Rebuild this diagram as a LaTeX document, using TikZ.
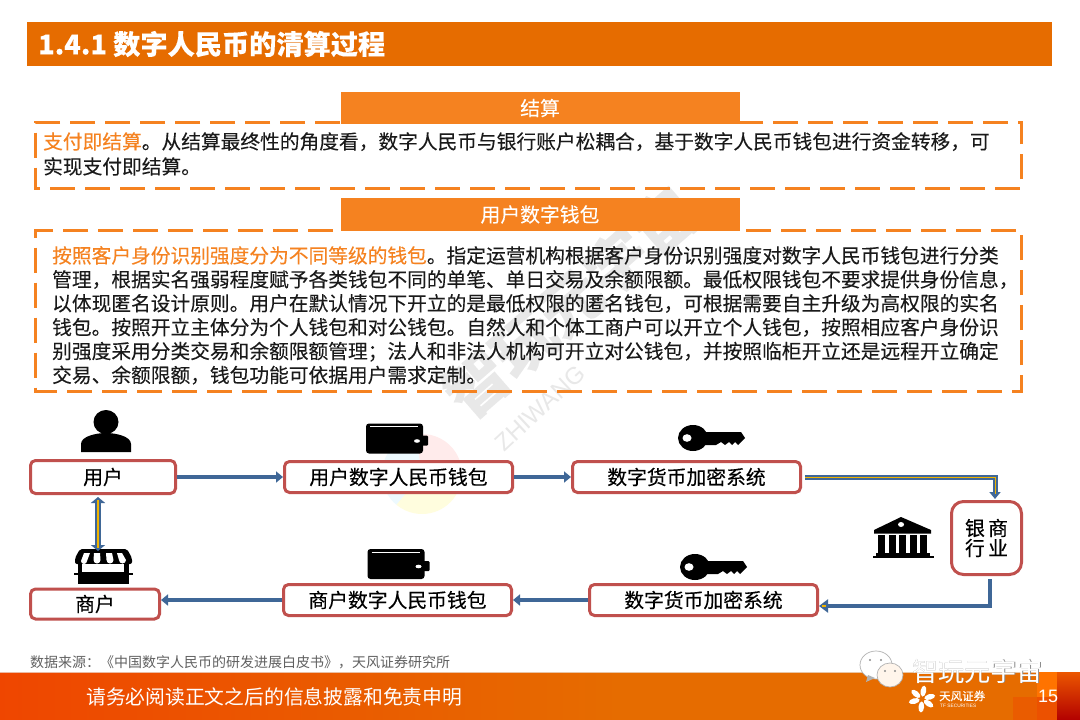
\documentclass[tikz,border=0pt]{standalone}
\usepackage{fontspec}
\setmainfont{Noto Sans CJK SC}[FakeBold=0.12]
\newfontfamily\plainf{Noto Sans CJK SC}
\newfontfamily\medf{Noto Sans CJK SC}[FakeBold=0.35]
\newfontfamily\latinf{Liberation Sans}
\definecolor{orangeA}{HTML}{E66C00}
\definecolor{orangeB}{HTML}{F58220}
\definecolor{redB}{HTML}{C0504D}
\definecolor{blueA}{HTML}{3F6797}
\definecolor{goldA}{HTML}{F0B400}
\definecolor{txt}{HTML}{1A1A1A}
\usetikzlibrary{arrows.meta,calc,positioning}
\tikzset{
  flowbox/.style={draw=redB,line width=3pt,rounded corners=5pt,fill=white,text=black,font=\medf\fontsize{19.8}{19.8}\selectfont,inner sep=0pt,anchor=center},
  headbar/.style={fill=orangeB,text=white,minimum width=399pt,inner sep=0pt,font=\fontsize{19.8}{19.8}\selectfont},
  dashbox/.style={draw=orangeB,line width=3pt,dash pattern=on 25pt off 10pt},
  para/.style={anchor=north west,inner sep=0pt,text=txt,align=left},
  flow/.style={draw=blueA,line width=4.5pt,-{Triangle[length=7pt,width=11pt]}},
  icon/.style={fill=black,draw=none}
}
\begin{document}
\begin{tikzpicture}[x=1pt,y=-1pt]
\useasboundingbox (0,0) rectangle (1080,720);
\fill[white] (0,0) rectangle (1080,720);
% watermark
\fill[pink!32] (422,474) -- ++(-100:40) arc[start angle=-100,end angle=10,radius=40] -- cycle;
\fill[yellow!13] (422,474) -- ++(10:40) arc[start angle=10,end angle=130,radius=40] -- cycle;
\fill[cyan!7] (422,474) -- ++(130:40) arc[start angle=130,end angle=260,radius=40] -- cycle;
\node[rotate=41,text=black!9,font=\bfseries\fontsize{62}{62}\selectfont] (wm) at (570,302) {智玩元宇宙};
\node[rotate=43,text=black!9,font=\latinf\fontsize{24}{24}\selectfont] (wm2) at (540,408) {ZHIWANG};
% title
\fill[orangeA] (27,22) rectangle (1052,66);
\node[anchor=west,text=white,inner sep=0pt,font=\bfseries\fontsize{27.2}{27.2}\selectfont] (title) at (38,44) {1.4.1 数字人民币的清算过程};
% section 1
\draw[dashbox] (340,122) -- (35.5,122) -- (35.5,188) -- (1021,188) -- (1021,122) -- (740,122);
\node[headbar,minimum height=32pt] (h1) at (540,108) {结算};
\node[para,font=\fontsize{19.72}{25}\selectfont] (p1) at (43,132) {\textcolor{orangeB}{支付即结算}。从结算最终性的角度看，数字人民币与银行账户松耦合，基于数字人民币钱包进行资金转移，可\\实现支付即结算。};
% section 2
\draw[dashbox] (333,230) -- (35.5,230) -- (35.5,391) -- (1021,391) -- (1021,230) -- (745,230);
\node[headbar,minimum height=33pt] (h2) at (540,214.5) {用户数字钱包};
\node[para,font=\fontsize{19.72}{23.9}\selectfont] (p2) at (52,246) {\textcolor{orangeB}{按照客户身份识别强度分为不同等级的钱包}。指定运营机构根据客户身份识别强度对数字人民币钱包进行分类\\管理，根据实名强弱程度赋予各类钱包不同的单笔、单日交易及余额限额。最低权限钱包不要求提供身份信息，\\以体现匿名设计原则。用户在默认情况下开立的是最低权限的匿名钱包，可根据需要自主升级为高权限的实名\\钱包。按照开立主体分为个人钱包和对公钱包。自然人和个体工商户可以开立个人钱包，按照相应客户身份识\\别强度采用分类交易和余额限额管理；法人和非法人机构可开立对公钱包，并按照临柜开立还是远程开立确定\\交易、余额限额，钱包功能可依据用户需求定制。};
% icons
\fill[icon] (106,422) ellipse (12.5pt and 12pt);
\fill[icon] (81,452) -- (81,444) .. controls (81,436) and (97,433) .. (106,433) .. controls (115,433) and (131,436) .. (131,444) -- (131,452) -- cycle;
\newcommand{\walleticon}[2]{%
  \begin{scope}[shift={(#1,#2)}]
    \fill[icon,rounded corners=3pt] (0,0) rectangle (57,30);
    \fill[icon,rounded corners=1pt] (50,12) rectangle (62,22);
    \draw[white,line width=.7pt] (4,3) -- (52,3);
    \fill[white] (51,17.5) ellipse (3pt and 1.8pt);
  \end{scope}}
\walleticon{366}{423.5}
\walleticon{367.5}{549}
\newcommand{\keyicon}[2]{%
  \begin{scope}[shift={(#1,#2)}]
    \fill[icon] (15,13) ellipse (15pt and 13pt);
    \fill[icon] (22,7) -- (63,7) -- (67,13) -- (63,17) -- (60,20) -- (57,17) -- (54,20) -- (51,17) -- (47,20) -- (43,17) -- (38,20) -- (22,20) -- cycle;
    \fill[white] (9,13) ellipse (4.5pt and 3.8pt);
  \end{scope}}
\keyicon{678}{425}
\keyicon{680}{554}
% shop
\fill[icon,rounded corners=2pt] (75,558) -- (80,549) -- (127,549) -- (132,558) -- (132,564) -- (75,564) -- cycle;
\fill[icon] (78,560) rectangle (129,584);
\fill[white] (84,553) -- (90,553) -- (87,561) arc[start angle=0,end angle=180,radius=3] -- cycle;
\fill[white] (94,553) -- (100,553) -- (100.5,560) arc[start angle=0,end angle=180,radius=3.5] -- cycle;
\fill[white] (106,553) -- (112,553) -- (113.5,560) arc[start angle=0,end angle=180,radius=3.5] -- cycle;
\fill[white] (117,553) -- (122,553) -- (126,560) arc[start angle=0,end angle=180,radius=3.5] -- cycle;
\fill[white] (82,563.5) rectangle (124,572);
\fill[icon] (74,572.5) rectangle (133,574.5);
% bank
\fill[icon] (874,530) -- (901,517) -- (931,530) -- (931,533.5) -- (874,533.5) -- cycle;
\fill[white] (901,524.5) ellipse (3pt and 2.5pt);
\foreach \xx in {878,888.5,899,909.5,920}{\fill[icon] (\xx,534.5) rectangle ++(7,18);}
\fill[icon] (876,552.5) rectangle (930,555.5);
\fill[icon] (873,555.5) rectangle (934,558);
% flow nodes
\node[flowbox,minimum width=145pt,minimum height=33pt] (user) at (103,477) {用户};
\node[flowbox,minimum width=228pt,minimum height=31pt] (uw) at (398.5,477) {用户数字人民币钱包};
\node[flowbox,minimum width=228pt,minimum height=31pt] (uc) at (686.5,477) {数字货币加密系统};
\node[flowbox,minimum width=70pt,minimum height=73pt,rounded corners=12pt,align=center,font=\medf\fontsize{19.8}{20}\selectfont] (bank) at (986.5,538) {银\,商\\行\,业};
\node[flowbox,minimum width=129pt,minimum height=30pt] (mer) at (95,604) {商户};
\node[flowbox,minimum width=228pt,minimum height=31pt] (mw) at (397.5,600) {商户数字人民币钱包};
\node[flowbox,minimum width=228pt,minimum height=31pt] (mc) at (703.5,600) {数字货币加密系统};
% connectors
\draw[flow] (user.east) -- (uw.west);
\draw[flow] (uw.east) -- (uc.west);
\coordinate (c1) at (995,477);
\draw[flow,line width=5pt,-{Triangle[length=7pt,width=11pt]},shorten <=3pt,shorten >=1pt] (uc.east) -- (c1) -- (bank.north-|c1);
\draw[draw=goldA,line width=.8pt,shorten <=3pt] (uc.east) -- (c1) -- ($(bank.north-|c1)+(0,-6)$);
\coordinate (c2) at (990,606);
\draw[flow,-{Triangle[length=9pt,width=13pt]},shorten <=3pt] (bank.south-|c2) -- (c2) -- (c2-|mc.east);
\draw[draw=goldA,line width=1.5pt] ($(c2-|mc.east)+(3,0)$) -- ($(c2-|mc.east)+(7,0)$);
\coordinate (m1) at (mw.west-|mer.east);
\draw[flow] (mc.west) -- (mw.east);
\draw[flow] (mw.west) -- (m1);
\coordinate (d1) at ($(user.south)+(-5,2)$);
\coordinate (d2) at ($(user.south)+(-5,56)$);
\draw[draw=blueA,line width=6pt,{Triangle[length=6pt,width=14pt]}-{Triangle[length=6pt,width=14pt]}] (d1) -- (d2);
\draw[draw=goldA,line width=2pt] ($(d1)+(0,3)$) -- ($(d2)+(0,-3)$);
% footer
\node[anchor=west,inner sep=0pt,text=black!62,font=\plainf\fontsize{14}{14}\selectfont] (src) at (30,662) {数据来源：《中国数字人民币的研发进展白皮书》，天风证券研究所};
\shade[left color=orangeA!65!red,right color=orangeA] (0,672) rectangle (620,720);
\fill[orangeA] (620,672) rectangle (1080,720);
\fill[black!8,opacity=.7] (0,671.5) rectangle (1080,672.5);
\fill[orange!90!red] (1037,672) rectangle (1057,697);
\fill[orangeA!85!red] (1013,697) rectangle (1037,720);
\fill[orangeA!75!red] (1037,697) rectangle (1057,720);
\shade[top color=orangeA!80!red,bottom color=red!70!black] (1057,672) rectangle (1080,720);
\node[anchor=west,inner sep=0pt,text=white,font=\plainf\fontsize{19.8}{19.8}\selectfont] (disc) at (86,697) {请务必阅读正文之后的信息披露和免责申明};
\node[anchor=west,inner sep=0pt,text=white,font=\fontsize{11.5}{11.5}\selectfont] (tf) at (939,696) {天风证券};
\node[anchor=west,inner sep=0pt,text=white,font=\latinf\fontsize{4.8}{4.8}\selectfont] (tf2) at (940,706) {TF SECURITIES};
\foreach \a in {15,80,140,195,265,325}{\fill[white,rotate around={\a:(922,699)}] (930,699) ellipse (5.5pt and 2.8pt);}
\node[anchor=west,inner sep=0pt,text=white,font=\latinf\fontsize{18}{18}\selectfont] (pg) at (1038,696) {15};
% wechat mark
\fill[white,draw=black!30,line width=.7pt] (876,665) ellipse (16pt and 14pt);
\fill[black!30] (868,675) -- (866,682) -- (875,678) -- cycle;
\fill[white!92!orange,draw=black!30,line width=.7pt] (890,675) ellipse (13pt and 12pt);
\fill[black!45] (870,660) circle (1.2pt) (881,660) circle (1.2pt) (885,671) circle (1.2pt) (895,671) circle (1.2pt);
\node[anchor=center,inner sep=0pt,text=black!45,font=\plainf\fontsize{26.2}{26.2}\selectfont] (wxs) at (978,671.7) {智玩元宇宙};
\node[anchor=center,inner sep=0pt,text=white,font=\plainf\fontsize{26.2}{26.2}\selectfont] (wx) at (977.5,671) {智玩元宇宙};
\end{tikzpicture}
\end{document}
